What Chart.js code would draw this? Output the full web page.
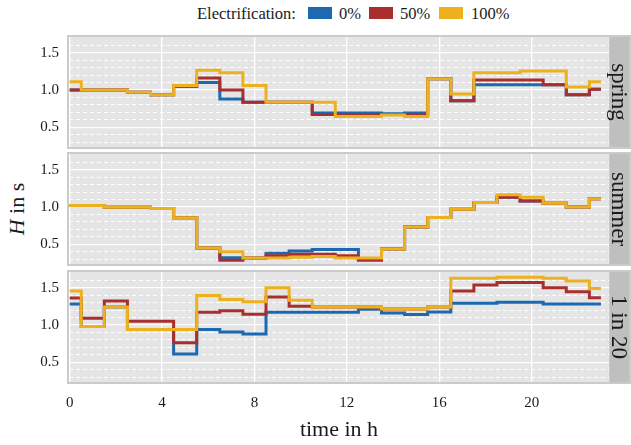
<!DOCTYPE html>
<html>
<head>
<meta charset="utf-8">
<script src="https://cdn.jsdelivr.net/npm/chart.js@4.4.1/dist/chart.umd.min.js"></script>
<style>
  html, body { margin: 0; padding: 0; background: #fff; }
  body { width: 631px; height: 445px; position: relative; overflow: hidden;
         font-family: 'Liberation Serif', serif; color: #1a1a1a; }
  canvas { position: absolute; left: 0; }
  .lg { position: absolute; top: 4px; font-size: 16.5px; line-height: 20px; white-space: nowrap; }
  .key { position: absolute; top: 7px; width: 24px; height: 12px; }
  #ylab { position: absolute; left: 17px; top: 209px; transform: translate(-50%, -50%) rotate(-90deg);
          font-size: 22px; white-space: nowrap; }
</style>
</head>
<body>
<div class="lg" style="left:197px">Electrification:</div>
<div class="key" id="k0" style="left:308px"></div>
<div class="lg" style="left:339px">0%</div>
<div class="key" id="k1" style="left:369px"></div>
<div class="lg" style="left:400px">50%</div>
<div class="key" id="k2" style="left:439px"></div>
<div class="lg" style="left:471px">100%</div>
<div id="ylab"><i>H</i> in s</div>

<canvas id="c0" width="631" height="118" style="top:33px"></canvas>
<canvas id="c1" width="631" height="118" style="top:150px"></canvas>
<canvas id="c2" width="631" height="177" style="top:268px"></canvas>

<script>
// hours of the day (steps drawn centred on each hour)
const hours = [0, 1, 2, 3, 4, 5, 6, 7, 8, 9, 10, 11, 12, 13, 14, 15, 16, 17, 18, 19, 20, 21, 22, 23];

const seriesNames = ['0%', '50%', '100%'];
const seriesColors = ['#1b69b0', '#a92f2f', '#edb120'];
const facetNames = ['spring', 'summer', '1 in 20'];

// inertia H in s
const springE0   = [1.00, 1.00, 1.00, 0.97, 0.935, 1.05, 1.10, 0.88, 0.835, 0.835, 0.835, 0.69, 0.69, 0.69, 0.68, 0.69, 1.15, 0.855, 1.07, 1.07, 1.07, 1.07, 0.935, 1.01];
const springE50  = [1.00, 1.00, 1.00, 0.97, 0.935, 1.05, 1.16, 1.00, 0.835, 0.835, 0.835, 0.67, 0.67, 0.67, 0.67, 0.67, 1.15, 0.855, 1.135, 1.135, 1.135, 1.07, 0.935, 1.01];
const springE100 = [1.11, 1.00, 1.00, 0.97, 0.935, 1.06, 1.265, 1.23, 1.06, 0.835, 0.835, 0.835, 0.645, 0.645, 0.665, 0.645, 1.15, 0.945, 1.23, 1.23, 1.255, 1.255, 1.04, 1.11];

const summerE0   = [1.02, 1.02, 0.995, 0.995, 0.98, 0.855, 0.45, 0.32, 0.315, 0.38, 0.41, 0.43, 0.43, 0.29, 0.435, 0.73, 0.86, 0.97, 1.06, 1.13, 1.08, 1.05, 1.00, 1.11];
const summerE50  = [1.02, 1.02, 0.995, 0.995, 0.98, 0.855, 0.45, 0.285, 0.315, 0.345, 0.365, 0.365, 0.345, 0.29, 0.435, 0.73, 0.86, 0.97, 1.06, 1.13, 1.08, 1.05, 1.00, 1.11];
const summerE100 = [1.02, 1.02, 0.995, 0.995, 0.98, 0.855, 0.45, 0.40, 0.315, 0.315, 0.325, 0.335, 0.315, 0.315, 0.435, 0.73, 0.86, 0.97, 1.06, 1.165, 1.13, 1.05, 1.00, 1.11];

const extremeE0   = [1.28, 0.98, 1.24, 0.94, 0.94, 0.61, 0.94, 0.905, 0.88, 1.17, 1.17, 1.17, 1.17, 1.21, 1.16, 1.14, 1.175, 1.29, 1.29, 1.305, 1.305, 1.28, 1.28, 1.28];
const extremeE50  = [1.36, 1.09, 1.32, 1.05, 1.05, 0.76, 1.17, 1.19, 1.145, 1.375, 1.25, 1.24, 1.24, 1.24, 1.215, 1.215, 1.24, 1.455, 1.535, 1.57, 1.57, 1.50, 1.445, 1.365];
const extremeE100 = [1.455, 0.98, 1.24, 0.94, 0.94, 0.94, 1.395, 1.34, 1.31, 1.50, 1.33, 1.24, 1.24, 1.24, 1.215, 1.215, 1.24, 1.625, 1.625, 1.64, 1.64, 1.625, 1.59, 1.49];

const xTicks = [0, 4, 8, 12, 16, 20];
const yTicks = [0.5, 1.0, 1.5];
const yMinorTicks = [0.3, 0.4, 0.6, 0.7, 0.8, 0.9, 1.1, 1.2, 1.3, 1.4, 1.6];

const FONT = 'Liberation Serif';
const TEXT = '#1a1a1a';

seriesColors.forEach((c, i) => { document.getElementById('k' + i).style.background = c; });

// grey panel background, facet strip and border (ggplot look)
const facetFrame = {
    id: 'facetFrame',
    beforeDraw(chart) {
        const { ctx, chartArea: a } = chart;
        ctx.save();
        ctx.fillStyle = '#e5e5e5';
        ctx.fillRect(a.left, a.top, a.right - a.left, a.bottom - a.top);
        ctx.restore();
    },
    afterDraw(chart, args, opts) {
        const { ctx, chartArea: a } = chart;
        const sx = a.right + 1, sw = 19;
        ctx.save();
        ctx.fillStyle = '#cbcbcb';
        ctx.fillRect(a.right, a.top, 1, a.bottom - a.top);
        ctx.fillStyle = '#bfbfbf';
        ctx.fillRect(sx, a.top, sw, a.bottom - a.top);
        ctx.strokeStyle = '#cbcbcb';
        ctx.lineWidth = 2;
        ctx.strokeRect(a.left - 1, a.top - 1, sx + sw + 2 - a.left, a.bottom - a.top + 2);
        ctx.translate(sx + sw / 2, (a.top + a.bottom) / 2);
        ctx.rotate(Math.PI / 2);
        ctx.font = '23px "' + FONT + '"';
        ctx.fillStyle = TEXT;
        ctx.textAlign = 'center';
        ctx.textBaseline = 'middle';
        ctx.fillText(opts.label, 0, 1);
        ctx.restore();
    }
};

function makePanel(id, facet, seriesValues, isBottom) {
    const ctx = document.getElementById(id).getContext('2d');
    return new Chart(ctx, {
        type: 'line',
        data: {
            datasets: seriesValues.map((vals, i) => ({
                label: seriesNames[i],
                data: hours.map((h, j) => ({ x: h, y: vals[j] })),
                borderColor: seriesColors[i],
                backgroundColor: seriesColors[i],
                borderWidth: 3,
                stepped: 'middle',
                pointRadius: 0,
                fill: false,
                borderCapStyle: 'butt',
                borderJoinStyle: 'miter',
                order: seriesValues.length - i
            }))
        },
        options: {
            responsive: false,
            animation: false,
            events: [],
            layout: { padding: { top: 4, bottom: isBottom ? 0 : 4, left: 0, right: 22 } },
            plugins: {
                legend: { display: false },
                tooltip: { enabled: false },
                facetFrame: { label: facet }
            },
            scales: {
                x: {
                    type: 'linear',
                    min: -0.03,
                    max: 23.35,
                    afterBuildTicks: s => { s.ticks = xTicks.map(v => ({ value: v })); },
                    afterFit: s => { s.height = isBottom ? 63 : 0; s.paddingLeft = 0; s.paddingRight = 0; },
                    grid: { color: '#ffffff', lineWidth: 1.3, drawTicks: false },
                    border: { display: false },
                    ticks: {
                        display: isBottom,
                        padding: 12,
                        maxRotation: 0,
                        autoSkip: false,
                        color: TEXT,
                        font: { family: FONT, size: 15 }
                    },
                    title: {
                        display: isBottom,
                        text: 'time in h',
                        color: TEXT,
                        font: { family: FONT, size: 22 },
                        padding: { top: 0, bottom: 2 }
                    }
                },
                yMinor: {
                    type: 'linear',
                    position: 'left',
                    min: 0.235,
                    max: 1.71,
                    afterBuildTicks: s => { s.ticks = yMinorTicks.map(v => ({ value: v })); },
                    afterFit: s => { s.width = 0; s.paddingTop = 0; s.paddingBottom = 0; },
                    grid: { color: '#ffffff', lineWidth: 1, drawTicks: false },
                    border: { display: false, dash: [4, 3] },
                    ticks: { display: false }
                },
                y: {
                    type: 'linear',
                    position: 'left',
                    min: 0.235,
                    max: 1.71,
                    afterBuildTicks: s => { s.ticks = yTicks.map(v => ({ value: v })); },
                    afterFit: s => { s.width = 69; s.paddingTop = 0; s.paddingBottom = 0; },
                    grid: { color: '#ffffff', lineWidth: 1.3, drawTicks: false },
                    border: { display: false },
                    ticks: {
                        padding: 10,
                        color: TEXT,
                        font: { family: FONT, size: 15 },
                        callback: v => v.toFixed(1)
                    }
                }
            }
        },
        plugins: [facetFrame]
    });
}

makePanel('c0', facetNames[0], [springE0, springE50, springE100], false);
makePanel('c1', facetNames[1], [summerE0, summerE50, summerE100], false);
makePanel('c2', facetNames[2], [extremeE0, extremeE50, extremeE100], true);
</script>
</body>
</html>
